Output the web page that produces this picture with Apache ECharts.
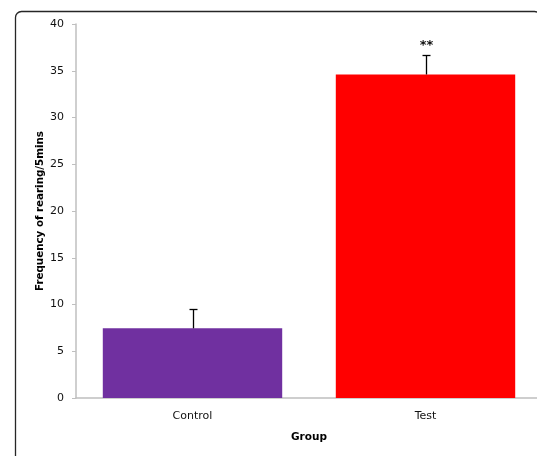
<!DOCTYPE html>
<html>
<head>
<meta charset="utf-8">
<script src="https://cdn.jsdelivr.net/npm/echarts@6/dist/echarts.min.js"></script>
<style>
html,body{margin:0;padding:0;background:#fff;}
#c{width:537px;height:456px;}
</style>
</head>
<body>
<div id="c"></div>
<script>
var categories = ['Control', 'Test'];
var means = [7.45, 34.6];
var errors = [2.05, 2.05];
var barColors = ['#7030A0', '#FF0000'];
var significance = ['', '**'];
var yTicks = { min: 0, max: 40, interval: 5 };

var chart = echarts.init(document.getElementById('c'), null, { renderer: 'canvas' });
var font = 'DejaVu Sans, Verdana, sans-serif';

var option = {
  animation: false,
  backgroundColor: '#fff',
  graphic: [{
    type: 'rect',
    left: 13, top: 9,
    shape: { width: 525, height: 480, r: 6 },
    style: { fill: 'none', stroke: '#262626', lineWidth: 1.3 },
    silent: true
  }],
  grid: { left: 76, width: 466, top: 24, height: 374, containLabel: false, outerBoundsMode: 'none' },
  xAxis: {
    type: 'category',
    data: categories,
    name: 'Group',
    nameLocation: 'middle',
    nameGap: 34,
    nameMoveOverlap: false,
    nameTextStyle: { fontFamily: font, fontSize: 10.5, fontWeight: 'bold', color: '#000' },
    axisLine: { lineStyle: { color: '#BFBFBF', width: 1.5 } },
    axisTick: { show: false },
    axisLabel: { fontFamily: font, fontSize: 11, color: '#111', margin: 13 }
  },
  yAxis: {
    type: 'value',
    min: yTicks.min, max: yTicks.max, interval: yTicks.interval,
    name: 'Frequency of rearing/5mins',
    nameLocation: 'middle',
    nameGap: 31,
    nameMoveOverlap: false,
    nameTextStyle: { fontFamily: font, fontSize: 10.3, fontWeight: 'bold', color: '#000' },
    axisLine: { show: true, lineStyle: { color: '#BFBFBF', width: 1.5 } },
    axisTick: { show: true, length: 4, lineStyle: { color: '#BFBFBF' } },
    axisLabel: { fontFamily: font, fontSize: 11, color: '#111', margin: 12 },
    splitLine: { show: false }
  },
  series: [{
    type: 'bar',
    barWidth: '77%',
    data: means.map(function (v, i) {
      return { value: v, itemStyle: { color: barColors[i] } };
    }),
    z: 2
  }, {
    type: 'custom',
    z: 3,
    data: means.map(function (v, i) { return [i, v, v + errors[i], significance[i]]; }),
    renderItem: function (params, api) {
      var base = api.coord([api.value(0), api.value(1)]);
      var top = api.coord([api.value(0), api.value(2)]);
      var x = Math.round(base[0]) + 0.5;
      var t = Math.round(top[1]) + 0.5;
      var children = [
        { type: 'line', shape: { x1: x, y1: base[1], x2: x, y2: t }, style: { stroke: '#000', lineWidth: 1.3 } },
        { type: 'line', shape: { x1: x - 4, y1: t, x2: x + 4, y2: t }, style: { stroke: '#000', lineWidth: 1.3 } }
      ];
      var sig = significance[params.dataIndex];
      if (sig) {
        children.push({
          type: 'text',
          style: { text: sig, x: x, y: t - 3, textAlign: 'center', textVerticalAlign: 'bottom',
                   fontFamily: font, fontSize: 13, fontWeight: 'bold', fill: '#111' }
        });
      }
      return { type: 'group', children: children };
    }
  }]
};
chart.setOption(option);
</script>
</body>
</html>
